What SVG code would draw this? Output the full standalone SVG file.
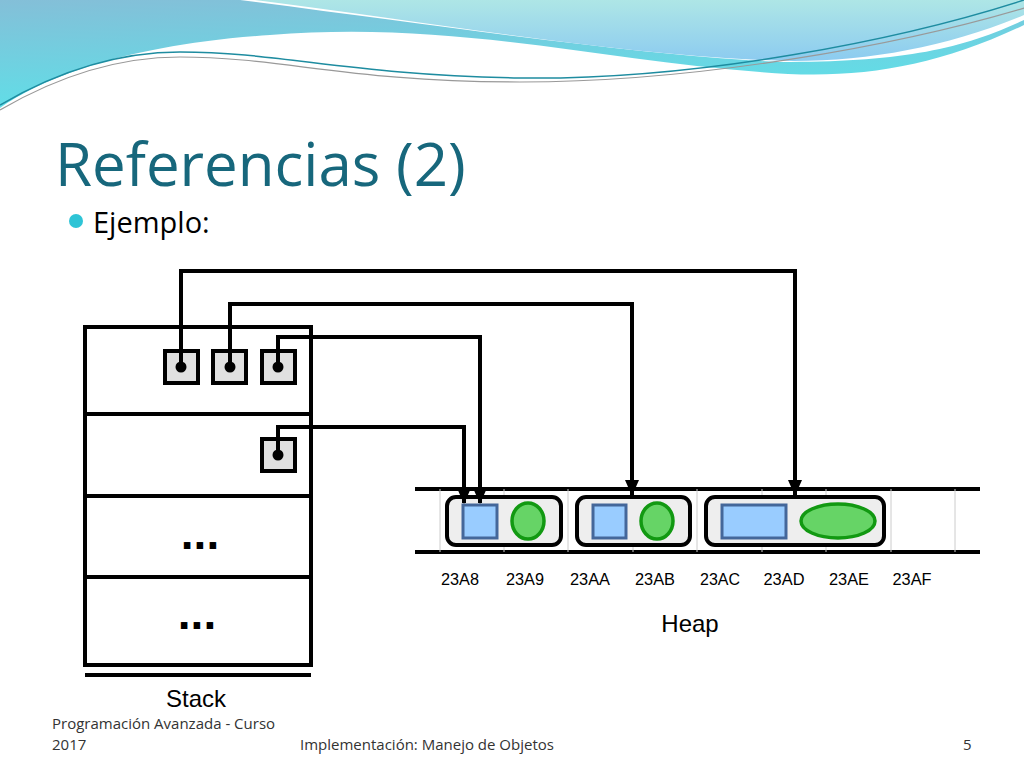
<svg xmlns="http://www.w3.org/2000/svg" width="1024" height="768" viewBox="0 0 1024 768">
<defs>
<linearGradient id="g1" x1="0" y1="0" x2="0.3" y2="1"><stop offset="0" stop-color="#84bfd8"/><stop offset="1" stop-color="#5ee0e8"/></linearGradient>
<linearGradient id="g2" x1="0" y1="0" x2="0" y2="1"><stop offset="0" stop-color="#aee6e6"/><stop offset="1" stop-color="#8ccbf0"/></linearGradient>
<marker id="ah" markerWidth="16" markerHeight="16" refX="7" refY="15" orient="0" markerUnits="userSpaceOnUse" viewBox="0 0 14 16"><path d="M0,0 L14,0 L7,16 Z" fill="#000"/></marker>
<style>
.txt{font-family:"Liberation Sans",Arial,sans-serif}
.ft{font-family:"Open Sans","Liberation Sans",sans-serif;font-size:15px;fill:#333}
.slot{fill:#e0e0e0;stroke:#000;stroke-width:4}
.con{fill:none;stroke:#000;stroke-width:4;marker-end:url(#ah)}
.obj{fill:#eee;stroke:#000;stroke-width:4}
.blue{fill:#99ccff;stroke:#44679a;stroke-width:3}
.green{fill:#66d466;stroke:#129912;stroke-width:3.5}
.sep{stroke:#ccc;stroke-width:1}
.lbl{font-size:17px;text-anchor:middle}
</style>
</defs>
<rect width="1024" height="768" fill="#fff"/>
<path d="M0,0 H1024 V25 C930,70 850,80 760,72 C600,60 450,20 270,35 C120,45 40,80 0,108 Z" fill="url(#g1)"/>
<path d="M240,0 H1024 V20 C960,50 900,62 780,62 C640,55 470,30 240,0 Z" fill="#fff"/>
<path d="M255,0 H1024 V15 C940,50 850,65 760,60 C600,52 450,25 255,0 Z" fill="url(#g2)"/>
<path d="M0,105 C60,70 120,52 180,52 C280,52 350,75 520,78 C700,80 900,40 1024,0" fill="none" stroke="#1e8ca0" stroke-width="1.5"/>
<path d="M0,110 C60,75 120,57 180,57 C280,57 350,82 520,82 C700,82 900,45 1024,8" fill="none" stroke="#999" stroke-width="1.2"/>
<text x="55" y="186" font-family="Open Sans,Liberation Sans,sans-serif" font-size="60" fill="#17677c">Referencias (2)</text>
<circle cx="76" cy="221" r="7" fill="#2ec4d6"/>
<text x="93" y="233" font-family="Open Sans,Liberation Sans,sans-serif" font-size="29" fill="#000">Ejemplo:</text>
<g id="stack">
<rect x="85" y="327" width="226" height="338" fill="#fff" stroke="#000" stroke-width="4"/>
<line x1="85" y1="414" x2="311" y2="414" stroke="#000" stroke-width="4"/>
<line x1="85" y1="496" x2="311" y2="496" stroke="#000" stroke-width="4"/>
<line x1="85" y1="577" x2="311" y2="577" stroke="#000" stroke-width="4"/>
<line x1="85" y1="675" x2="311" y2="675" stroke="#000" stroke-width="4"/>
<text x="200" y="549" class="txt" font-size="46" font-weight="bold" text-anchor="middle">...</text>
<text x="197" y="629" class="txt" font-size="46" font-weight="bold" text-anchor="middle">...</text>
<text x="196" y="707" class="txt" font-size="24" text-anchor="middle">Stack</text>
</g>
<g id="slot1"><rect class="slot" x="165" y="351" width="33" height="32"/></g>
<g id="slot2"><rect class="slot" x="213" y="351" width="33" height="32"/></g>
<g id="slot3"><rect class="slot" x="262" y="351" width="33" height="32"/></g>
<g id="slot4"><rect class="slot" x="262" y="439" width="33" height="32"/></g>
<g id="heap">
<line x1="415" y1="489" x2="980" y2="489" stroke="#000" stroke-width="4"/>
<line x1="415" y1="552" x2="980" y2="552" stroke="#000" stroke-width="4"/>
<g class="sep"><line x1="440" y1="489" x2="440" y2="552"/><line x1="504" y1="489" x2="504" y2="552"/><line x1="568" y1="489" x2="568" y2="552"/><line x1="633" y1="489" x2="633" y2="552"/><line x1="697" y1="489" x2="697" y2="552"/><line x1="762" y1="489" x2="762" y2="552"/><line x1="826" y1="489" x2="826" y2="552"/><line x1="891" y1="489" x2="891" y2="552"/><line x1="955" y1="489" x2="955" y2="552"/></g>
<g class="txt lbl"><text x="460" y="585" textLength="38" lengthAdjust="spacingAndGlyphs">23A8</text><text x="525" y="585" textLength="38" lengthAdjust="spacingAndGlyphs">23A9</text><text x="590" y="585" textLength="40" lengthAdjust="spacingAndGlyphs">23AA</text><text x="655" y="585" textLength="40" lengthAdjust="spacingAndGlyphs">23AB</text><text x="720" y="585" textLength="40" lengthAdjust="spacingAndGlyphs">23AC</text><text x="784" y="585" textLength="41" lengthAdjust="spacingAndGlyphs">23AD</text><text x="849" y="585" textLength="40" lengthAdjust="spacingAndGlyphs">23AE</text><text x="912" y="585" textLength="39" lengthAdjust="spacingAndGlyphs">23AF</text></g>
<text x="690" y="632" class="txt" font-size="24" text-anchor="middle">Heap</text>
</g>
<g id="obj1"><rect class="obj" x="447" y="497" width="114" height="48" rx="9"/><rect class="blue" x="463" y="505" width="34" height="33"/><ellipse class="green" cx="528" cy="521" rx="16" ry="18"/></g>
<g id="obj2"><rect class="obj" x="577" y="497" width="113" height="48" rx="9"/><rect class="blue" x="593" y="505" width="33" height="33"/><ellipse class="green" cx="657" cy="521" rx="16" ry="18"/></g>
<g id="obj3"><rect class="obj" x="706" y="497" width="178" height="48" rx="9"/><rect class="blue" x="722" y="505" width="64" height="33"/><ellipse class="green" cx="838" cy="521" rx="37" ry="17"/></g>
<g id="connectors">
<path class="con" d="M181,367 V271 H795 V495"/>
<path class="con" d="M230,367 V304 H632 V495"/>
<path class="con" d="M278,367 V337 H480 V503"/>
<path class="con" d="M278,455 V427 H464 V503"/>
<circle cx="181" cy="367" r="5.5"/><circle cx="230" cy="367" r="5.5"/><circle cx="278" cy="367" r="5.5"/><circle cx="278" cy="455" r="5.5"/>
</g>
<text x="52" y="729" class="ft">Programación Avanzada - Curso</text>
<text x="52" y="750" class="ft">2017</text>
<text x="300" y="750" class="ft">Implementación: Manejo de Objetos</text>
<text x="963" y="750" class="ft">5</text>
</svg>
